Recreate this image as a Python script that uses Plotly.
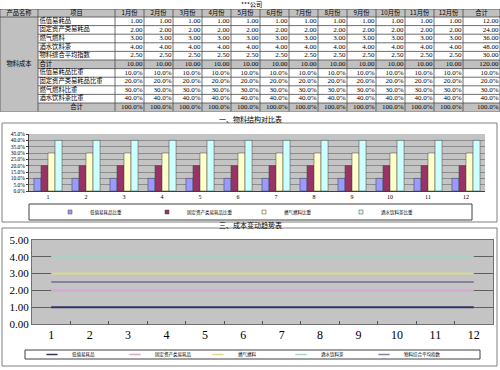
import plotly.graph_objects as go

# ---------------- data ----------------
months = ["1月份", "2月份", "3月份", "4月份", "5月份", "6月份", "7月份", "8月份", "9月份", "10月份", "11月份", "12月份"]
periods = ["1", "2", "3", "4", "5", "6", "7", "8", "9", "10", "11", "12"]

cost_names = ["低值易耗品", "固定资产类易耗品", "燃气燃料", "酒水饮料茶", "物料综合平均指数"]
low_cost = [1.00, 1.00, 1.00, 1.00, 1.00, 1.00, 1.00, 1.00, 1.00, 1.00, 1.00, 1.00]
fixed_cost = [2.00, 2.00, 2.00, 2.00, 2.00, 2.00, 2.00, 2.00, 2.00, 2.00, 2.00, 2.00]
gas_cost = [3.00, 3.00, 3.00, 3.00, 3.00, 3.00, 3.00, 3.00, 3.00, 3.00, 3.00, 3.00]
drink_cost = [4.00, 4.00, 4.00, 4.00, 4.00, 4.00, 4.00, 4.00, 4.00, 4.00, 4.00, 4.00]
avg_index = [2.50, 2.50, 2.50, 2.50, 2.50, 2.50, 2.50, 2.50, 2.50, 2.50, 2.50, 2.50]
total_cost = [10.00, 10.00, 10.00, 10.00, 10.00, 10.00, 10.00, 10.00, 10.00, 10.00, 10.00, 10.00]

share_names = ["低值易耗品比重", "固定资产类易耗品比重", "燃气燃料比重", "酒水饮料茶比重"]
low_share = [0.10, 0.10, 0.10, 0.10, 0.10, 0.10, 0.10, 0.10, 0.10, 0.10, 0.10, 0.10]
fixed_share = [0.20, 0.20, 0.20, 0.20, 0.20, 0.20, 0.20, 0.20, 0.20, 0.20, 0.20, 0.20]
gas_share = [0.30, 0.30, 0.30, 0.30, 0.30, 0.30, 0.30, 0.30, 0.30, 0.30, 0.30, 0.30]
drink_share = [0.40, 0.40, 0.40, 0.40, 0.40, 0.40, 0.40, 0.40, 0.40, 0.40, 0.40, 0.40]
total_share = [1.00, 1.00, 1.00, 1.00, 1.00, 1.00, 1.00, 1.00, 1.00, 1.00, 1.00, 1.00]

# yearly totals column (合计)
cost_sums = [12.00, 24.00, 36.00, 48.00, 30.00, 120.00]
share_sums = [0.10, 0.20, 0.30, 0.40, 1.00]

# ---------------- helpers / styling ----------------
W, H = 500, 370
def px(x):
    return x / W
def py(y):
    return 1 - y / H

SERIF = "Liberation Serif, Noto Serif CJK SC, Noto Sans CJK SC"
CJK = "Noto Sans CJK SC"
GREY = "#c0c0c0"
BORDER = "#4a4a4a"

# table geometry (px)
col_widths = [38, 77] + [29] * 12 + [37]
header_h = 8.0
row_h = 8.6

# ---------------- table content ----------------
header_labels = ["产品名称", "项目"] + months + ["合计"]
row_items = cost_names + ["合计"] + share_names + ["合计"]
n_rows = len(row_items)
n_cols = len(header_labels)

cost_rows = [low_cost, fixed_cost, gas_cost, drink_cost, avg_index]
share_rows = [low_share, fixed_share, gas_share, drink_share]
columns_num = []
for m in range(len(months)):
    columns_num.append([f"{r[m]:.2f}" for r in cost_rows] + [f"{total_cost[m]:.2f}"]
                       + [f"{r[m]*100:.1f}%" for r in share_rows] + [f"{total_share[m]*100:.1f}%"])
columns_num.append([f"{v:.2f}" for v in cost_sums] + [f"{v*100:.1f}%" for v in share_sums])

x_edges = [0.0]
for w in col_widths:
    x_edges.append(x_edges[-1] + w)
y_edges = [0.0, header_h]
for _ in range(n_rows):
    y_edges.append(y_edges[-1] + row_h)
grey_rows = {5, 10}

z = [[1] * n_cols]
for r in range(n_rows):
    z.append([1 if (c == 0 or r in grey_rows) else 0 for c in range(n_cols)])

fig = go.Figure()
fig.add_trace(go.Heatmap(x=x_edges, y=y_edges, z=z, zmin=0, zmax=1, showscale=False,
                         colorscale=[[0, "white"], [1, GREY]], hoverinfo="skip",
                         xaxis="x3", yaxis="y3"))

# cell borders (merged first column has no inner horizontal lines)
bx, by = [], []
for xe in x_edges:
    bx += [xe, xe, None]; by += [y_edges[0], y_edges[-1], None]
for i, ye in enumerate(y_edges):
    x0 = x_edges[0] if i in (0, 1, len(y_edges) - 1) else x_edges[1]
    bx += [x0, x_edges[-1], None]; by += [ye, ye, None]
fig.add_trace(go.Scatter(x=bx, y=by, mode="lines", line=dict(color=BORDER, width=0.8),
                         hoverinfo="skip", showlegend=False, xaxis="x3", yaxis="y3"))

row_mid = [(y_edges[r + 1] + y_edges[r + 2]) / 2 for r in range(n_rows)]
col_mid = [(x_edges[c] + x_edges[c + 1]) / 2 for c in range(n_cols)]

# header text
fig.add_trace(go.Scatter(x=col_mid, y=[header_h / 2] * n_cols, text=header_labels, mode="text",
                         textposition="middle center", textfont=dict(family=CJK, size=6.3, color="black"),
                         hoverinfo="skip", showlegend=False, xaxis="x3", yaxis="y3"))
# merged product name
fig.add_trace(go.Scatter(x=[col_mid[0]], y=[(y_edges[1] + y_edges[-1]) / 2], text=["物料成本"], mode="text",
                         textposition="middle center", textfont=dict(family=CJK, size=6.3, color="black"),
                         hoverinfo="skip", showlegend=False, xaxis="x3", yaxis="y3"))
# item names (left aligned), last 合计 centred
fig.add_trace(go.Scatter(x=[x_edges[1] + 1.5] * (n_rows - 1), y=row_mid[:-1], text=row_items[:-1], mode="text",
                         textposition="middle right", textfont=dict(family=CJK, size=6.3, color="black"),
                         hoverinfo="skip", showlegend=False, xaxis="x3", yaxis="y3"))
fig.add_trace(go.Scatter(x=[col_mid[1]], y=[row_mid[-1]], text=[row_items[-1]], mode="text",
                         textposition="middle center", textfont=dict(family=CJK, size=6.3, color="black"),
                         hoverinfo="skip", showlegend=False, xaxis="x3", yaxis="y3"))
# numbers (right aligned)
nx, ny, nt = [], [], []
for c, col in enumerate(columns_num):
    for r, t in enumerate(col):
        nx.append(x_edges[c + 3] - 1.5); ny.append(row_mid[r]); nt.append(t)
fig.add_trace(go.Scatter(x=nx, y=ny, text=nt, mode="text", textposition="middle left",
                         textfont=dict(family=SERIF, size=7, color="black"),
                         hoverinfo="skip", showlegend=False, xaxis="x3", yaxis="y3"))

# ---------------- bar chart ----------------
bar_colors = ["#9999ff", "#993366", "#ffffcc", "#ccffff"]
for name, vals, col in zip(share_names, share_rows, bar_colors):
    fig.add_trace(go.Bar(x=periods, y=vals, name=name,
                         marker=dict(color=col, line=dict(color="#404040", width=0.5)),
                         xaxis="x", yaxis="y", showlegend=False, hoverinfo="skip"))
    fig.add_trace(go.Scatter(x=[None], y=[None], mode="markers", name=name, legend="legend",
                             marker=dict(symbol="square", size=4, color=col, line=dict(color="#404040", width=0.5)),
                             xaxis="x", yaxis="y"))

# ---------------- line chart ----------------
line_series = [low_cost, fixed_cost, gas_cost, drink_cost, avg_index]
line_colors = ["#333366", "#d2a8d2", "#d8d890", "#a8d4c8", "#8a7f9e"]
for name, vals, col in zip(cost_names, line_series, line_colors):
    fig.add_trace(go.Scatter(x=periods, y=vals, mode="lines", name=name, line=dict(color=col, width=2),
                             xaxis="x2", yaxis="y2", showlegend=False, hoverinfo="skip"))
    fig.add_trace(go.Scatter(x=[None], y=[None], mode="markers", name=name, legend="legend2",
                             marker=dict(symbol="line-ew", size=8, line=dict(color=col, width=1.5)),
                             xaxis="x2", yaxis="y2"))

fig.update_layout(
    width=W, height=H, margin=dict(l=0, r=0, t=0, b=0, autoexpand=False),
    paper_bgcolor="white", plot_bgcolor="#c4c4c4",
    barmode="group", bargap=0.26, bargroupgap=0,
    xaxis3=dict(domain=[0, 1], anchor="y3", range=[x_edges[0], x_edges[-1]], visible=False, fixedrange=True),
    yaxis3=dict(domain=[py(9 + y_edges[-1]), py(9)], anchor="x3", range=[y_edges[-1], y_edges[0]],
                visible=False, fixedrange=True),
    xaxis=dict(domain=[px(29), px(485)], anchor="y", type="category", automargin=False,
               range=[-0.5, len(periods) - 0.5],
               tickfont=dict(family=SERIF, size=6, color="black"),
               showline=True, linecolor="#404040", linewidth=1, ticks="", showgrid=False),
    yaxis=dict(domain=[py(191), py(134)], anchor="x", range=[0, 0.45], dtick=0.05, tickformat=".1%",
               automargin=False, tickfont=dict(family=SERIF, size=5.5, color="black"),
               showline=True, linecolor="#404040", linewidth=1, gridcolor="#8c8c8c", gridwidth=1,
               zeroline=False, ticks="outside", ticklen=2, tickcolor="#404040"),
    xaxis2=dict(domain=[px(32), px(493)], anchor="y2", type="category", automargin=False,
                range=[-0.5, len(periods) - 0.5],
                tickfont=dict(family=SERIF, size=12, color="black"),
                showline=True, linecolor="#707070", linewidth=1, mirror=True,
                tickson="boundaries", ticks="inside", ticklen=3, tickcolor="#505050", showgrid=False),
    yaxis2=dict(domain=[py(324), py(240)], anchor="x2", range=[0, 5], dtick=1, tickformat=".2f",
                automargin=False, tickfont=dict(family=SERIF, size=11, color="black"),
                showline=True, linecolor="#707070", linewidth=1, mirror=True,
                gridcolor="#606060", gridwidth=1, zeroline=False),
    legend=dict(orientation="h", x=px(50), y=py(212), xanchor="left", yanchor="middle",
                entrywidth=52, font=dict(family=CJK, size=4.5, color="black"),
                bgcolor="rgba(0,0,0,0)", borderwidth=0),
    legend2=dict(orientation="h", x=px(32), y=py(354.5), xanchor="left", yanchor="middle",
                 entrywidth=38, font=dict(family=CJK, size=4.5, color="black"),
                 bgcolor="rgba(0,0,0,0)", borderwidth=0),
    annotations=[
        dict(text="***公司", x=px(251), y=py(4.2), xref="paper", yref="paper", showarrow=False,
             xanchor="center", yanchor="middle", font=dict(family=CJK, size=6.3, color="black")),
        dict(text="一、物料结构对比表", x=px(250), y=py(119), xref="paper", yref="paper", showarrow=False,
             xanchor="center", yanchor="middle", font=dict(family=CJK, size=7, color="black")),
        dict(text="三、成本变动趋势表", x=px(250), y=py(225), xref="paper", yref="paper", showarrow=False,
             xanchor="center", yanchor="middle", font=dict(family=CJK, size=7, color="black")),
    ],
    shapes=[
        dict(type="rect", xref="paper", yref="paper", x0=px(2), x1=px(497), y0=py(222), y1=py(123),
             line=dict(color="#808080", width=1), layer="below"),
        dict(type="rect", xref="paper", yref="paper", x0=px(29), x1=px(472), y0=py(220), y1=py(204),
             line=dict(color="#404040", width=1), layer="below"),
        dict(type="rect", xref="paper", yref="paper", x0=px(2), x1=px(497), y0=py(366), y1=py(228),
             line=dict(color="#808080", width=1), layer="below"),
        dict(type="rect", xref="paper", yref="paper", x0=px(25), x1=px(480), y0=py(359), y1=py(350),
             line=dict(color="#404040", width=1), layer="below"),
    ],
)

fig.write_html("out.html", config={"displayModeBar": False},
               post_script="document.body.style.margin='0px';")
